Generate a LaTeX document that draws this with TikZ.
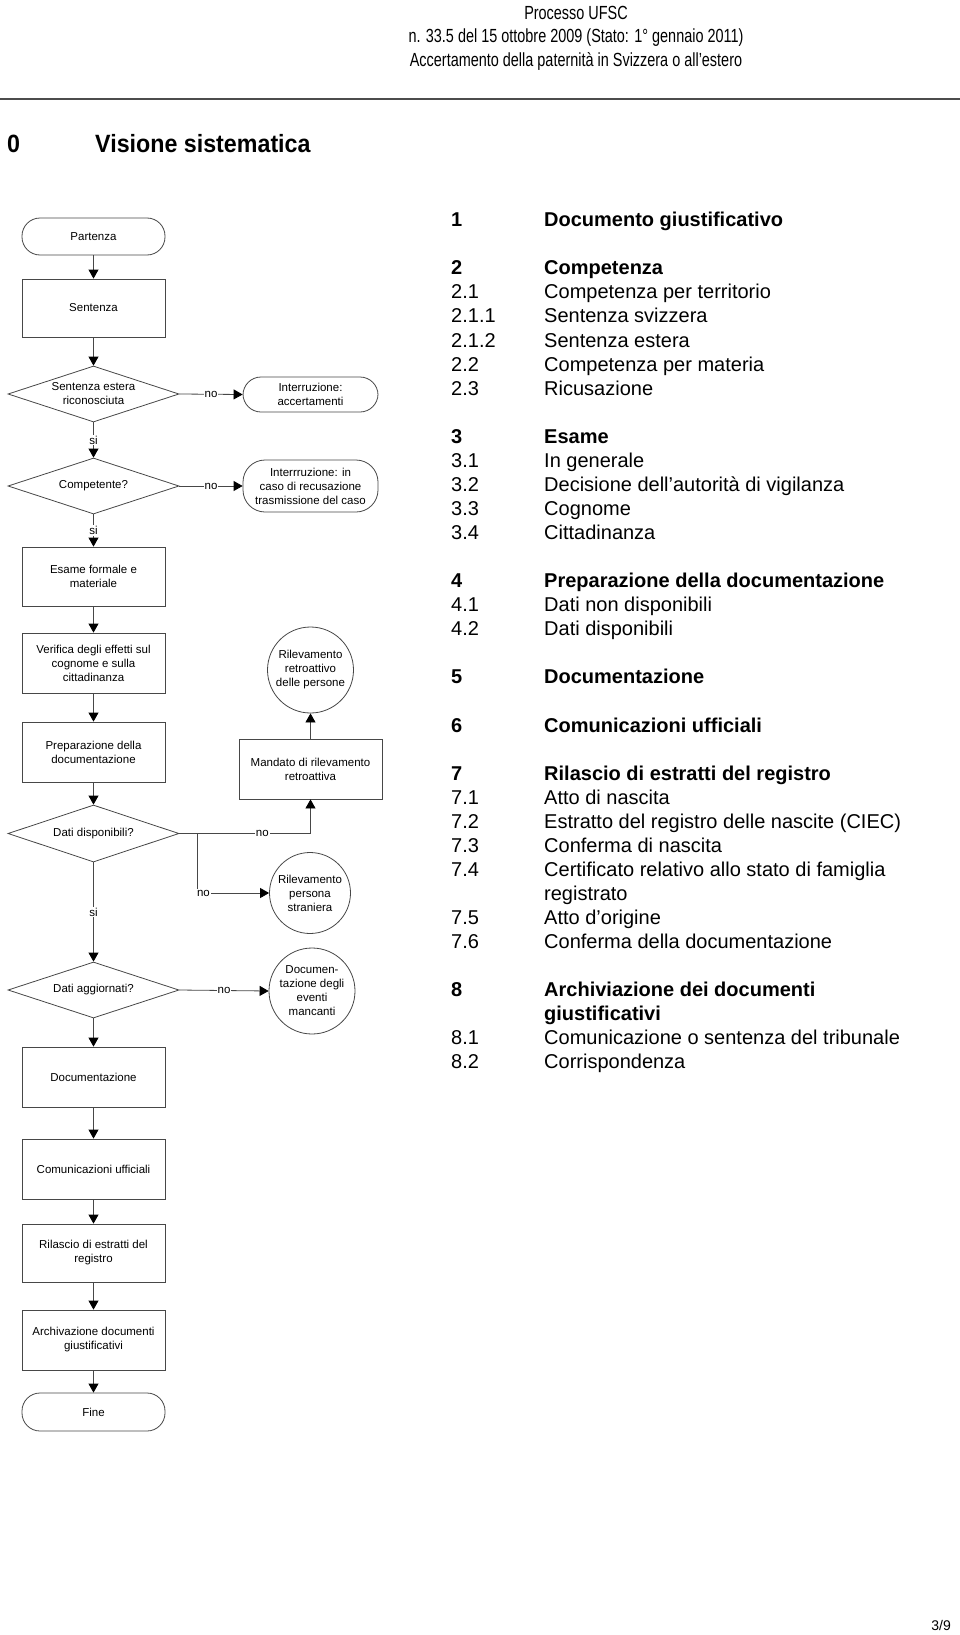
\documentclass[tikz,border=0pt]{standalone}
\usepackage{fontspec}
\setmainfont{Liberation Sans}
\newfontfamily\narrowfont[FakeStretch=0.76]{Liberation Sans}
\newfontfamily\narrowboldfont[FakeStretch=0.93]{Liberation Sans Bold}
\usetikzlibrary{shapes.geometric,arrows.meta}
\newcommand\flowfont{\fontsize{11.5}{14}\selectfont}
\newcommand\hdrfont{\narrowfont\fontsize{19}{23.5}\selectfont}
\newcommand\tocfont{\fontsize{20}{24.06}\selectfont}
\begin{document}
\begin{tikzpicture}[x=1pt,y=-1pt,
  line/.style={draw=black!72, line width=0.8pt},
  arr/.style={line, -{Triangle[width=10pt,length=9pt,color=black]}},
  box/.style={line, rectangle, minimum width=143pt, minimum height=59pt, inner sep=2pt, align=center, font=\flowfont},
  term/.style={box, rounded corners=18pt, minimum height=37pt},
  dia/.style={line, diamond, minimum width=171pt, minimum height=56pt, inner sep=0pt},
  circ/.style={line, circle, minimum size=86pt, inner sep=0pt, align=center, font=\flowfont},
  lbl/.style={fill=white, inner sep=1pt, font=\flowfont},
  txt/.style={align=center, font=\flowfont, inner sep=0pt},
  secfont/.style={font=\narrowboldfont\fontsize{25}{28}\selectfont, anchor=base west, inner sep=0pt},
]
\useasboundingbox (0,0) rectangle (960,1635);

% header
\node[font=\hdrfont, anchor=base] (h1) at (576,19.5) {Processo UFSC};
\node[font=\hdrfont, anchor=base] (h2) at (576,43) {n. 33.5 del 15 ottobre 2009 (Stato: 1° gennaio 2011)};
\node[font=\hdrfont, anchor=base] (h3) at (576,66.5) {Accertamento della paternità in Svizzera o all’estero};
\draw[black!70, line width=1.8pt] (0,99) -- (960,99);

\node[secfont] (s0) at (7,152) {0};
\node[secfont] (s0t) at (95,152) {Visione sistematica};

% left column
\node[term, minimum height=37pt] (part) at (93.5,236.5) {Partenza};
\node[box, minimum height=58pt] (sent) at (93.5,308) {Sentenza};
\node[dia] (d1) at (93.5,394) {};
\node[txt] (d1t) at (d1) {Sentenza estera\\riconosciuta};
\node[term, minimum width=135pt, minimum height=35pt] (int1) at (310.5,394.5) {Interruzione:\\accertamenti};
\node[dia] (d2) at (93.5,486) {};
\node[txt] (d2t) at (d2) {Competente?};
\node[term, minimum width=135pt, minimum height=52pt, rounded corners=22pt] (int2) at (310.5,486) {Interrruzione: in\\caso di recusazione\\trasmissione del caso};
\node[box] (esame) at (93.5,576.5) {Esame formale e\\materiale};
\node[box, minimum height=60pt] (verif) at (93.5,663) {Verifica degli effetti sul\\cognome e sulla\\cittadinanza};
\node[box, minimum height=60pt] (prep) at (93.5,752) {Preparazione della\\documentazione};
\node[dia, minimum height=57pt] (d3) at (93.5,833.5) {};
\node[txt] (d3t) at (d3) {Dati disponibili?};
\node[circ] (rr) at (310.5,670) {Rilevamento\\retroattivo\\delle persone};
\node[box, minimum height=60pt] (mand) at (310.5,769) {Mandato di rilevamento\\retroattiva};
\node[circ, minimum size=81pt] (rp) at (310,893) {Rilevamento\\persona\\straniera};
\node[dia] (d4) at (93.5,990) {};
\node[txt] (d4t) at (d4) {Dati aggiornati?};
\node[circ] (de) at (312,991) {Documen-\\tazione degli\\eventi\\mancanti};
\node[box, minimum height=60pt] (docu) at (93.5,1077) {Documentazione};
\node[box, minimum height=60pt] (comu) at (93.5,1169) {Comunicazioni ufficiali};
\node[box, minimum height=58pt] (rila) at (93.5,1253) {Rilascio di estratti del\\registro};
\node[box, minimum height=60pt] (arch) at (93.5,1340) {Archivazione documenti\\giustificativi};
\node[term, minimum height=38pt] (fine) at (93.5,1412) {Fine};

% connectors
\draw[arr] (part) -- (sent);
\draw[arr] (sent) -- (d1);
\draw[arr] (d1) -- node[lbl]{si} (d2);
\draw[arr] (d1.east) -- node[lbl]{no} (int1.west);
\draw[arr] (d2) -- node[lbl]{si} (esame);
\draw[arr] (d2.east) -- node[lbl]{no} (int2.west);
\draw[arr] (esame) -- (verif);
\draw[arr] (verif) -- (prep);
\draw[arr] (prep) -- (d3);
\draw[arr] (d3.east) -| node[lbl, pos=0.316]{no} (mand.south);
\coordinate (br) at (197,833.5);
\draw[arr] (br) |- node[lbl, pos=0.545]{no} (rp.west);
\draw[arr] (mand) -- (rr);
\draw[arr] (d3) -- node[lbl]{si} (d4);
\draw[arr] (d4.east) -- node[lbl]{no} (de.west);
\draw[arr] (d4) -- (docu);
\draw[arr] (docu) -- (comu);
\draw[arr] (comu) -- (rila);
\draw[arr] (rila) -- (arch);
\draw[arr] (arch) -- (fine);

% right column
\node[anchor=north west, inner sep=0pt, font=\tocfont] (toc) at (451,209.7) {%
\begin{tabular}{@{}p{93pt}@{}l@{}}
\textbf{1} & \textbf{Documento giustificativo}\\
 & \\
\textbf{2} & \textbf{Competenza}\\
2.1 & Competenza per territorio\\
2.1.1 & Sentenza svizzera\\
2.1.2 & Sentenza estera\\
2.2 & Competenza per materia\\
2.3 & Ricusazione\\
 & \\
\textbf{3} & \textbf{Esame}\\
3.1 & In generale\\
3.2 & Decisione dell’autorità di vigilanza\\
3.3 & Cognome\\
3.4 & Cittadinanza\\
 & \\
\textbf{4} & \textbf{Preparazione della documentazione}\\
4.1 & Dati non disponibili\\
4.2 & Dati disponibili\\
 & \\
\textbf{5} & \textbf{Documentazione}\\
 & \\
\textbf{6} & \textbf{Comunicazioni ufficiali}\\
 & \\
\textbf{7} & \textbf{Rilascio di estratti del registro}\\
7.1 & Atto di nascita\\
7.2 & Estratto del registro delle nascite (CIEC)\\
7.3 & Conferma di nascita\\
7.4 & Certificato relativo allo stato di famiglia\\
 & registrato\\
7.5 & Atto d’origine\\
7.6 & Conferma della documentazione\\
 & \\
\textbf{8} & \textbf{Archiviazione dei documenti}\\
 & \textbf{giustificativi}\\
8.1 & Comunicazione o sentenza del tribunale\\
8.2 & Corrispondenza
\end{tabular}};

\node[font=\fontsize{14}{16}\selectfont, anchor=base east, inner sep=0pt] (pg) at (951,1630) {3/9};
\end{tikzpicture}
\end{document}
